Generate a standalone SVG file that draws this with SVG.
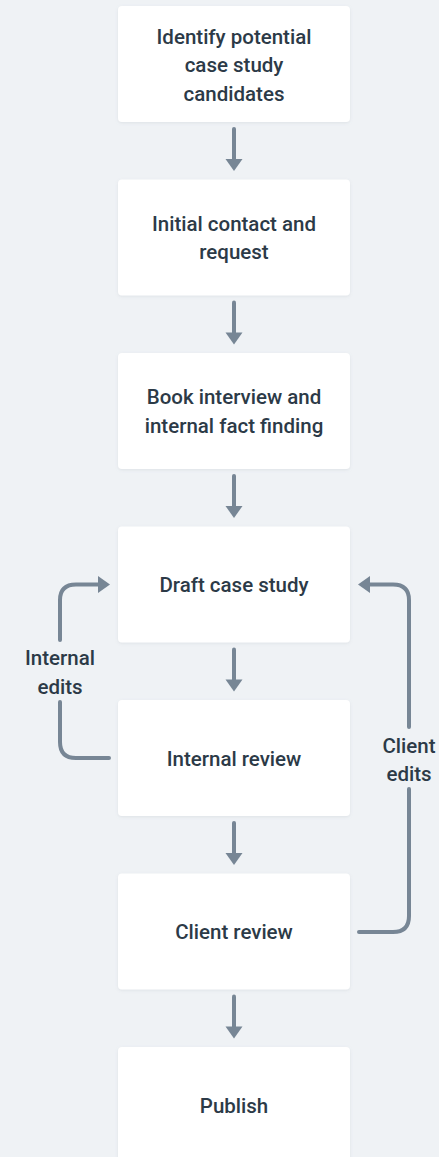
<svg xmlns="http://www.w3.org/2000/svg" width="439" height="1157" viewBox="0 0 439 1157">
<defs>
<style>
.node rect{fill:#ffffff;filter:url(#sh)}
.node text,.lbl{font-family:Roboto,"Noto Sans",sans-serif;font-weight:500;font-size:20.5px;fill:#2c3a47;text-anchor:middle}
.edge{fill:none;stroke:#778695;stroke-width:4;stroke-linecap:round;stroke-linejoin:round}
.head{fill:#778695}
</style>
<filter id="sh" x="-10%" y="-10%" width="120%" height="130%">
<feDropShadow dx="0" dy="1" stdDeviation="1.5" flood-color="#8a97a6" flood-opacity="0.18"/>
</filter>
</defs>
<rect width="439" height="1157" fill="#eff2f5"/>
<g id="connectors">
<path class="edge" d="M234 129V160"/><path class="head" d="M225.5 159H242.5L234 171Z"/>
<path class="edge" d="M234 302.5V333.5"/><path class="head" d="M225.5 332.5H242.5L234 344.5Z"/>
<path class="edge" d="M234 476V507"/><path class="head" d="M225.5 506H242.5L234 518Z"/>
<path class="edge" d="M234 649.5V680.5"/><path class="head" d="M225.5 679.5H242.5L234 691.5Z"/>
<path class="edge" d="M234 823V854"/><path class="head" d="M225.5 853H242.5L234 865Z"/>
<path class="edge" d="M234 996.5V1027.5"/><path class="head" d="M225.5 1026.5H242.5L234 1038.5Z"/>
<path class="edge" d="M109 758H76Q60 758 60 742V702"/>
<path class="edge" d="M60 640V600Q60 584.5 76 584.5H99"/><path class="head" d="M98 576V593L110 584.5Z"/>
<path class="edge" d="M359 932H393Q409 932 409 916V789"/>
<path class="edge" d="M409 727V600Q409 584.5 393 584.5H369"/><path class="head" d="M370 576V593L358 584.5Z"/>
<text class="lbl" x="60" y="665">Internal</text>
<text class="lbl" x="60" y="694">edits</text>
<text class="lbl" x="409" y="753">Client</text>
<text class="lbl" x="409" y="781">edits</text>
</g>
<g id="n1" class="node"><rect x="118" y="6" width="232" height="116" rx="4"/>
<text x="234" y="43.5">Identify potential</text><text x="234" y="72">case study</text><text x="234" y="100.5">candidates</text></g>
<g id="n2" class="node"><rect x="118" y="179.5" width="232" height="116" rx="4"/>
<text x="234" y="230.5">Initial contact and</text><text x="234" y="259">request</text></g>
<g id="n3" class="node"><rect x="118" y="353" width="232" height="116" rx="4"/>
<text x="234" y="404">Book interview and</text><text x="234" y="432.5">internal fact finding</text></g>
<g id="n4" class="node"><rect x="118" y="526.5" width="232" height="116" rx="4"/>
<text x="234" y="592">Draft case study</text></g>
<g id="n5" class="node"><rect x="118" y="700" width="232" height="116" rx="4"/>
<text x="234" y="765.5">Internal review</text></g>
<g id="n6" class="node"><rect x="118" y="873.5" width="232" height="116" rx="4"/>
<text x="234" y="939">Client review</text></g>
<g id="n7" class="node"><rect x="118" y="1047" width="232" height="116" rx="4"/>
<text x="234" y="1112.5">Publish</text></g>
</svg>
